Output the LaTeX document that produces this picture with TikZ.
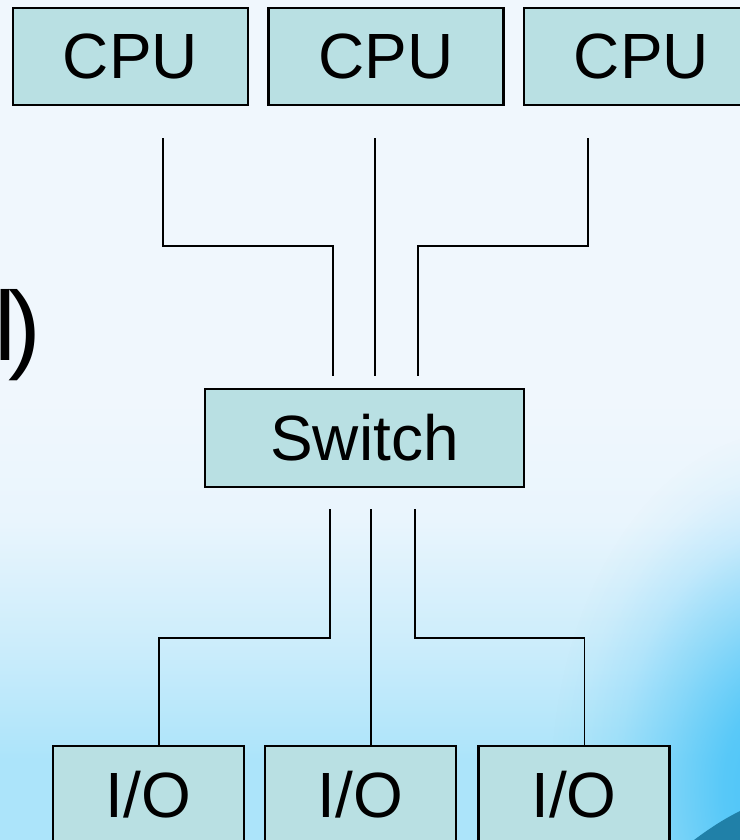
\documentclass[tikz,border=0pt]{standalone}
\usepackage{fontspec}
\setmainfont{Liberation Sans}
\usepackage{xcolor}
\definecolor{unitFill}{RGB}{185, 224, 227}
\definecolor{bgTop}{RGB}{240, 247, 253}
\definecolor{bgMid}{RGB}{233, 245, 253}
\definecolor{bgLow}{RGB}{205, 237, 251}
\definecolor{bgBottom}{RGB}{172, 228, 250}
\definecolor{glowBlue}{RGB}{70, 195, 248}
\definecolor{swoosh}{RGB}{32, 128, 168}
\usetikzlibrary{fadings}

\pgfdeclareverticalshading{slideBg}{100bp}{color(0bp)=(bgBottom); color(29.8bp)=(bgBottom); color(36.9bp)=(bgLow); color(44bp)=(bgMid); color(51.2bp)=(bgTop); color(100bp)=(bgTop)}
\pgfdeclareradialshading{glowShape}{\pgfpoint{0bp}{0bp}}{color(0bp)=(white); color(7bp)=(white!82!black); color(13bp)=(white!45!black); color(18bp)=(white!18!black); color(22bp)=(white!5!black); color(25bp)=(black); color(50bp)=(black)}
\pgfdeclarefading{glowFade}{\pgfuseshading{glowShape}}

\begin{document}
\begin{tikzpicture}[
    x=0.02cm, y=-0.02cm,
    unit/.style={
        rectangle, draw=black, line width=1.3pt,
        fill=unitFill, text=black, inner sep=0pt,
        font=\fontsize{36.4}{44}\selectfont
    },
    cpu/.style={unit, minimum width=4.7cm, minimum height=1.94cm},
    hub/.style={unit, minimum width=6.38cm, minimum height=1.96cm},
    port/.style={unit, minimum width=3.82cm, minimum height=1.94cm},
    wire/.style={line width=1.1pt, draw=black}
]

    % Frame and slide background
    \useasboundingbox (0,0) rectangle (740,840);
    \clip (0,0) rectangle (740,840);
    \shade[shading=slideBg] (0,0) rectangle (740,840);
    \fill[glowBlue, path fading=glowFade] (790,790) ellipse (240 and 360);
    \fill[swoosh] (694,840) .. controls (710,828) and (724,819) .. (740,811) -- (740,840) -- cycle;

    % Left-over slide text
    \node[anchor=base east, inner sep=0pt, font=\fontsize{55.8}{60}\selectfont] (brk) at (42,360) {l\kern-0.07em)};

    % Processors
    \node[cpu] (cpuA) at (130.5,56.5) {CPU};
    \node[cpu] (cpuB) at (386,56.5) {CPU};
    \node[cpu] (cpuC) at (641.5,56.5) {CPU};

    % Switch
    \node[hub] (sw) at (364.5,438) {Switch};

    % I/O units
    \node[port] (ioA) at (148.5,794.5) {I/O};
    \node[port] (ioB) at (360.5,794.5) {I/O};
    \node[port] (ioC) at (574,794.5) {I/O};

    % Wire ends
    \coordinate (tapA) at (163,138);
    \coordinate (tapB) at (375,138);
    \coordinate (tapC) at (588,138);
    \coordinate (inA) at (333,376);
    \coordinate (inB) at (375,376);
    \coordinate (inC) at (418,376);
    \coordinate (outA) at (330,509);
    \coordinate (outB) at (371,509);
    \coordinate (outC) at (415,509);

    % CPU to switch
    \draw[wire] (tapA) -- ++(0,108) -| (inA);
    \draw[wire] (tapB) -- (inB);
    \draw[wire] (tapC) -- ++(0,108) -| (inC);

    % Switch to I/O
    \draw[wire] (outA) -- ++(0,129) -| ([xshift=0.21cm]ioA.north);
    \draw[wire] (outB) -- ([xshift=0.21cm]ioB.north);
    \draw[wire] (outC) -- ++(0,129) -| ([xshift=0.21cm]ioC.north);

\end{tikzpicture}
\end{document}
